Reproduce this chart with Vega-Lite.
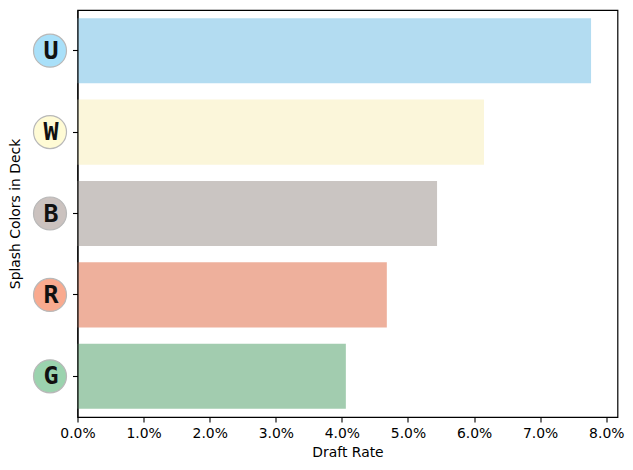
{
  "$schema": "https://vega.github.io/schema/vega-lite/v6.json",
  "width": 540,
  "height": 407,
  "autosize": "none",
  "padding": {"left": 77.5, "top": 10, "right": 15.5, "bottom": 53},
  "background": "white",
  "config": {
    "view": {"stroke": "black", "strokeWidth": 1.2, "fill": null},
    "axis": {"grid": false, "labelFont": "DejaVu Sans", "titleFont": "DejaVu Sans", "labelFontSize": 13.9, "titleFontSize": 13.9, "titleFontWeight": "normal", "labelColor": "black", "titleColor": "black", "tickColor": "black", "domainColor": "black", "tickSize": 5, "tickWidth": 1.1, "domainWidth": 1.1}
  },
  "data": {"values": [
    {"color": "U", "rate": 7.77, "bar": "#B3DCF1", "badge": "#A9E0F9"},
    {"color": "W", "rate": 6.15, "bar": "#FBF6DA", "badge": "#FFFBD5"},
    {"color": "B", "rate": 5.44, "bar": "#CAC5C2", "badge": "#CBC2BF"},
    {"color": "R", "rate": 4.68, "bar": "#EEB09C", "badge": "#F9AA8F"},
    {"color": "G", "rate": 4.06, "bar": "#A2CCAF", "badge": "#9BD3AE"}
  ]},
  "encoding": {
    "y": {"field": "color", "type": "nominal", "sort": ["U", "W", "B", "R", "G"],
      "scale": {"paddingInner": 0.2, "paddingOuter": 0.1},
      "axis": {"title": "Splash Colors in Deck", "zindex": 1, "labelAngle": 0, "labelFont": "DejaVu Sans Mono", "labelFontWeight": "bold", "labelFontSize": 25, "labelColor": "#111", "labelAlign": "center", "labelPadding": 22, "titleX": -55, "titlePadding": 0}}
  },
  "layer": [
    {
      "mark": {"type": "bar"},
      "encoding": {
        "x": {"field": "rate", "type": "quantitative",
          "scale": {"domain": [0, 8.17], "nice": false, "zero": false},
          "axis": {"title": "Draft Rate", "values": [0,1,2,3,4,5,6,7,8], "labelFlush": false, "labelExpr": "format(datum.value, '.1f') + '%'", "labelPadding": 4, "titlePadding": 6}},
        "fill": {"field": "bar", "type": "nominal", "scale": null}
      }
    },
    {
      "mark": {"type": "point", "filled": true, "size": 1089, "stroke": "#B8B8B8", "strokeWidth": 1.2, "opacity": 1, "clip": false},
      "encoding": {
        "x": {"datum": -0.416},
        "fill": {"field": "badge", "type": "nominal", "scale": null}
      }
    }
  ]
}
